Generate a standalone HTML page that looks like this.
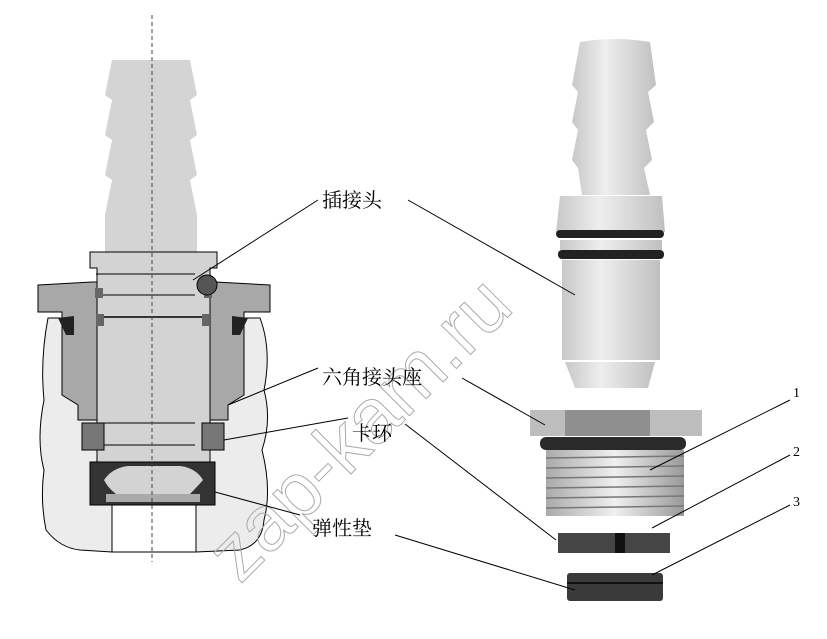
<!DOCTYPE html>
<html><head><meta charset="utf-8"><style>
body{margin:0;background:#fff}
svg{display:block}
text{font-family:"Liberation Serif","Noto Serif CJK SC","Noto Sans CJK SC",serif}
</style></head><body>
<svg width="827" height="639" viewBox="0 0 827 639" xmlns="http://www.w3.org/2000/svg">
<defs>
<linearGradient id="pl" x1="0" x2="1"><stop offset="0" stop-color="#c8c8c8"/><stop offset=".4" stop-color="#eee"/><stop offset="1" stop-color="#c0c0c0"/></linearGradient>
<linearGradient id="th" x1="0" x2="1"><stop offset="0" stop-color="#aaa"/><stop offset=".5" stop-color="#f0f0f0"/><stop offset="1" stop-color="#999"/></linearGradient>
</defs>
<!-- left housing -->
<path d="M48 318 Q40 360 44 400 Q36 440 44 470 Q40 500 46 530 Q60 548 80 550 L112 552 L196 552 L240 550 Q262 545 264 520 Q272 490 262 450 Q272 420 264 390 Q272 350 260 318 Z" fill="#ececec" stroke="#000" stroke-width="1"/>
<rect x="112" y="505" width="84" height="47" fill="#fff" stroke="#000" stroke-width="1"/>
<!-- hose barb -->
<path d="M112 60 L190 60 L197 95 L190 100 L197 135 L190 140 L197 175 L190 180 L197 215 L197 252 L105 252 L105 215 L112 180 L105 175 L112 140 L105 135 L112 100 L105 95 Z" fill="#d4d4d4"/>
<!-- plug body -->
<path d="M90 252 L217 252 L217 268 L210 268 L210 470 Q200 495 180 498 L125 498 Q105 495 97 470 L97 268 L90 268 Z" fill="#d3d3d3" stroke="#000" stroke-width="1"/>
<line x1="96" y1="274" x2="195" y2="274" stroke="#000"/>
<line x1="96" y1="295" x2="195" y2="295" stroke="#000"/>
<line x1="96" y1="317" x2="210" y2="317" stroke="#000" stroke-width="1.5"/>
<line x1="96" y1="423" x2="195" y2="423" stroke="#000"/>
<line x1="96" y1="445" x2="195" y2="445" stroke="#000"/>
<line x1="96" y1="465" x2="195" y2="465" stroke="#000"/>
<!-- hex nut -->
<path d="M38 285 L92 282 L97 282 L97 420 L78 420 L78 405 L62 395 L62 312 L38 312 Z" fill="#a8a8a8" stroke="#000"/>
<path d="M270 285 L215 282 L210 282 L210 420 L228 420 L228 405 L244 395 L244 312 L270 312 Z" fill="#a8a8a8" stroke="#000"/>
<path d="M58 318 L74 316 L74 335 L66 335 Z" fill="#222"/>
<path d="M248 318 L232 316 L232 335 L240 335 Z" fill="#222"/>
<rect x="95" y="288" width="8" height="10" fill="#666"/><rect x="204" y="288" width="8" height="10" fill="#666"/>
<rect x="96" y="314" width="8" height="12" fill="#666"/><rect x="202" y="314" width="8" height="12" fill="#666"/>
<!-- clip -->
<rect x="82" y="423" width="22" height="27" fill="#777" stroke="#000"/>
<rect x="202" y="423" width="22" height="27" fill="#777" stroke="#000"/>
<!-- seal -->
<path d="M90 462 L215 462 L215 505 L90 505 Z" fill="#333" stroke="#000"/>
<path d="M104 480 Q112 468 128 466 L180 466 Q196 468 203 480 Q196 488 190 494 L116 494 Q108 488 104 480 Z" fill="#d3d3d3"/>
<path d="M106 494 L200 494 L200 502 L106 502 Z" fill="#aaa"/>
<circle cx="207" cy="285" r="10" fill="#555" stroke="#000"/>
<line x1="152" y1="15" x2="152" y2="562" stroke="#444" stroke-dasharray="4,3"/>
<!-- right plug -->
<path d="M580 42 Q615 36 650 42 L656 85 L648 92 L654 122 L646 130 L652 160 L644 168 L650 195 L582 195 L578 168 L572 160 L578 130 L572 122 L578 92 L572 85 Z" fill="url(#pl)"/>
<path d="M560 196 L662 196 L665 232 L556 232 Z" fill="url(#pl)"/>
<rect x="556" y="230" width="108" height="8" rx="4" fill="#222"/>
<path d="M560 240 L662 240 L662 250 L560 250 Z" fill="url(#pl)"/>
<rect x="558" y="250" width="106" height="9" rx="4" fill="#222"/>
<path d="M562 260 L660 260 L660 360 L562 360 Z" fill="url(#pl)"/>
<path d="M565 362 L655 362 L648 388 L575 388 Z" fill="url(#pl)"/>
<!-- nut -->
<rect x="530" y="410" width="172" height="26" fill="#bdbdbd"/>
<rect x="565" y="410" width="85" height="26" fill="#8f8f8f"/>
<rect x="540" y="437" width="146" height="13" rx="6" fill="#2a2a2a"/>
<rect x="546" y="450" width="138" height="66" fill="url(#th)"/>
<g stroke="#777" stroke-width="1.5"><line x1="546" y1="458" x2="684" y2="456"/><line x1="546" y1="468" x2="684" y2="466"/><line x1="546" y1="478" x2="684" y2="476"/><line x1="546" y1="488" x2="684" y2="486"/><line x1="546" y1="498" x2="684" y2="496"/><line x1="546" y1="508" x2="684" y2="506"/></g>
<rect x="558" y="533" width="112" height="20" fill="#454545"/>
<rect x="615" y="533" width="10" height="20" fill="#111"/>
<rect x="567" y="573" width="96" height="28" rx="3" fill="#3a3a3a"/>
<line x1="567" y1="583" x2="663" y2="583" stroke="#111" stroke-width="2"/>
<!-- watermark -->
<text x="0" y="0" font-size="78" fill="none" stroke="#aaa" stroke-width="1" transform="translate(240,585) rotate(-45)" style="font-family:'Liberation Sans',sans-serif">zap-kam.ru</text>
<!-- leaders -->
<g stroke="#000" stroke-width="1" fill="none">
<line x1="318" y1="200" x2="193" y2="280"/><line x1="408" y1="200" x2="575" y2="295"/>
<line x1="318" y1="368" x2="228" y2="405"/><line x1="462" y1="378" x2="545" y2="425"/>
<line x1="348" y1="418" x2="224" y2="440"/><line x1="405" y1="424" x2="556" y2="540"/>
<line x1="300" y1="515" x2="215" y2="492"/><line x1="395" y1="535" x2="575" y2="590"/>
<line x1="790" y1="400" x2="650" y2="470"/><line x1="790" y1="455" x2="652" y2="528"/><line x1="790" y1="505" x2="652" y2="575"/>
</g>
<g font-size="20" fill="#000">
<text x="322" y="207">插接头</text>
<text x="322" y="384">六角接头座</text>
<text x="352" y="440">卡环</text>
<text x="312" y="535">弹性垫</text>
</g>
<g font-size="14" fill="#000"><text x="793" y="397">1</text><text x="793" y="456">2</text><text x="793" y="506">3</text></g>
</svg>
</body></html>
